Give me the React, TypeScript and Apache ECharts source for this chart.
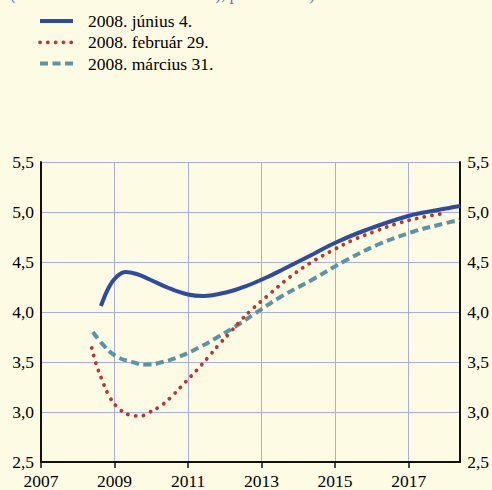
import React, { useEffect, useRef } from "react";
import * as echarts from "echarts";

const seriesNames = ["2008. június 4.", "2008. február 29.", "2008. március 31."];

const juneData: [number, number][] = [
  [2008.63, 4.06], [2008.85, 4.25], [2009.05, 4.35], [2009.3, 4.4], [2009.6, 4.38],
  [2009.93, 4.33], [2010.47, 4.24], [2011.0, 4.175], [2011.41, 4.16],
  [2012.08, 4.2], [2012.62, 4.265], [2013.16, 4.35], [2013.6, 4.43], [2014.41, 4.58],
  [2014.99, 4.69], [2015.84, 4.82], [2016.99, 4.96], [2017.8, 5.02], [2018.4, 5.06],
];

const febData: [number, number][] = [
  [2008.38, 3.64], [2008.5, 3.48], [2008.65, 3.33], [2008.84, 3.17], [2009.1, 3.04],
  [2009.48, 2.965], [2009.71, 2.96], [2009.91, 2.99], [2010.29, 3.07], [2010.62, 3.18],
  [2010.93, 3.3], [2011.24, 3.42], [2011.53, 3.54], [2011.83, 3.67], [2012.13, 3.79],
  [2012.42, 3.91], [2012.75, 4.03], [2013.25, 4.19], [2013.77, 4.35], [2014.32, 4.49],
  [2014.9, 4.61], [2015.49, 4.72], [2016.11, 4.81], [2016.74, 4.89], [2017.41, 4.95],
  [2018.05, 4.99],
];

const marData: [number, number][] = [
  [2008.41, 3.8], [2008.67, 3.68], [2009.03, 3.56], [2009.57, 3.49], [2009.88, 3.475],
  [2010.2, 3.49], [2010.74, 3.55], [2011.27, 3.64], [2011.81, 3.75], [2012.35, 3.87],
  [2012.8, 3.98], [2013.51, 4.15], [2014.41, 4.33], [2015.31, 4.52], [2016.2, 4.68],
  [2017.1, 4.8], [2017.8, 4.87], [2018.38, 4.92],
];

const xTicks = [2007, 2009, 2011, 2013, 2015, 2017];

const FONT = "Liberation Serif";
const BLUE = "#2f4b9f";
const RED = "#b5372f";
const TEAL = "#5b95a5";
const GRID = "#a9ace6";
const INK = "#000";
const FS = 17.5;

export default function App() {
  const ref = useRef<HTMLDivElement>(null);
  useEffect(() => {
    if (!ref.current) return;
    const chart = echarts.init(ref.current, null, { renderer: "svg" });
    const fmt = (v: number) => v.toFixed(1).replace(".", ",");
    const legendRows = [
      { name: seriesNames[0], color: BLUE, dash: null as number[] | null, width: 4, cap: "butt" },
      { name: seriesNames[1], color: RED, dash: [0.1, 7.7], width: 3.8, cap: "round" },
      { name: seriesNames[2], color: TEAL, dash: [8, 4.5], width: 4, cap: "butt" },
    ];
    const graphics: any[] = [
      {
        type: "text",
        left: 10,
        top: -14,
        style: { text: "(éven belüli forward hozamok), piaci árazás)", fill: "#3d7cc9", fontFamily: FONT, fontSize: 17 },
      },
    ];
    legendRows.forEach((r, i) => {
      const y = 21 + i * 21.3;
      graphics.push({
        type: "line",
        shape: { x1: 40, y1: y, x2: 73, y2: y },
        style: { stroke: r.color, lineWidth: r.width, lineDash: r.dash, lineCap: r.cap },
      });
      graphics.push({
        type: "text",
        x: 88,
        y: y,
        style: { text: r.name, fill: INK, fontFamily: FONT, fontSize: FS, verticalAlign: "middle" },
      });
    });
    chart.setOption({
      animation: false,
      backgroundColor: "#fdfbe3",
      grid: { left: 41, right: 27, top: 162, bottom: 28, containLabel: false },
      xAxis: {
        type: "value",
        min: 2007,
        max: 2018.4,
        interval: 2,
        axisLine: { lineStyle: { color: "#111", width: 2 } },
        axisTick: { show: true, length: 6, lineStyle: { color: "#111", width: 1.5 }, customValues: xTicks },
        axisLabel: {
          customValues: xTicks,
          color: INK,
          fontFamily: FONT,
          fontSize: FS,
          margin: 10,
          formatter: (v: number) => String(v),
        },
        splitLine: { show: true, lineStyle: { color: GRID, width: 1 } },
      },
      yAxis: [
        {
          type: "value",
          position: "left",
          min: 2.5,
          max: 5.5,
          interval: 0.5,
          axisLine: { show: true, lineStyle: { color: "#111", width: 2 } },
          axisTick: { show: false },
          axisLabel: { color: INK, fontFamily: FONT, fontSize: FS, margin: 7, formatter: fmt },
          splitLine: { show: true, lineStyle: { color: GRID, width: 1 } },
        },
        {
          type: "value",
          position: "right",
          min: 2.5,
          max: 5.5,
          interval: 0.5,
          axisLine: { show: true, lineStyle: { color: "#111", width: 2 } },
          axisTick: { show: false },
          axisLabel: { color: INK, fontFamily: FONT, fontSize: FS, margin: 7, formatter: fmt },
          splitLine: { show: false },
        },
      ],
      series: [
        {
          name: seriesNames[2],
          type: "line",
          data: marData,
          smooth: 0.4,
          symbol: "none",
          lineStyle: { color: TEAL, width: 4, type: [8, 4.5] },
        },
        {
          name: seriesNames[1],
          type: "line",
          data: febData,
          smooth: 0.4,
          symbol: "none",
          lineStyle: { color: RED, width: 3.8, type: [0.1, 7.7], cap: "round" },
        },
        {
          name: seriesNames[0],
          type: "line",
          data: juneData,
          smooth: 0.4,
          symbol: "none",
          lineStyle: { color: BLUE, width: 4 },
        },
      ],
      graphic: graphics,
    });
    return () => chart.dispose();
  }, []);
  return (
    <div
      ref={ref}
      style={{ position: "absolute", left: 0, top: 0, width: 492, height: 490 }}
    />
  );
}
